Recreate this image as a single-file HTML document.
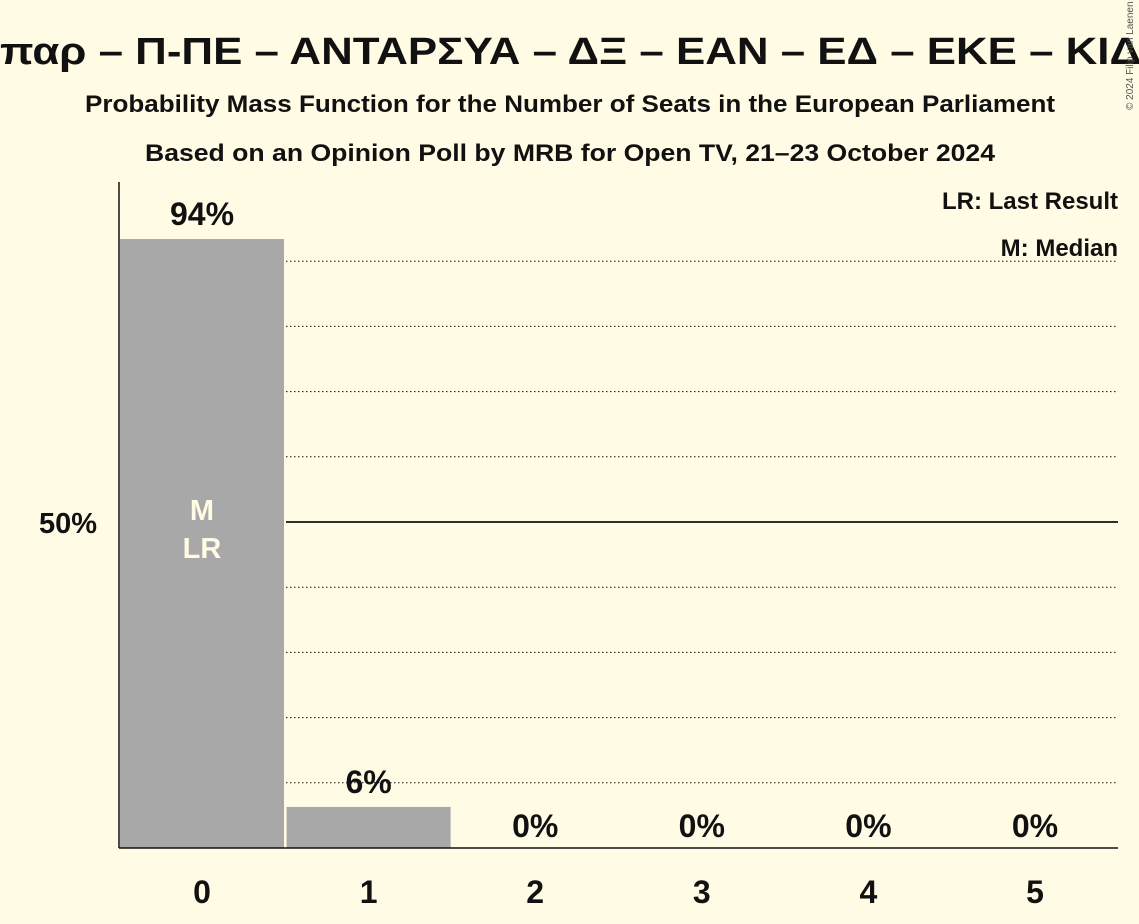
<!DOCTYPE html>
<html><head><meta charset="utf-8"><style>
body{margin:0;background:#fffbe5;}
svg{display:block;font-family:"Liberation Sans","DejaVu Sans",sans-serif;}
</style></head><body>
<svg id="c" width="1139" height="924" viewBox="0 0 1139 924" xmlns="http://www.w3.org/2000/svg">
<rect width="1139" height="924" fill="#fffbe5"/>
<text x="0" y="64" font-size="38" font-weight="bold" fill="#111" textLength="1141" lengthAdjust="spacingAndGlyphs">παρ – Π-ΠΕ – ΑΝΤΑΡΣΥΑ – ΔΞ – ΕΑΝ – ΕΔ – ΕΚΕ – ΚΙΔ</text>
<text x="85" y="112" font-size="24" font-weight="bold" fill="#111" textLength="970" lengthAdjust="spacingAndGlyphs">Probability Mass Function for the Number of Seats in the European Parliament</text>
<text x="145" y="161" font-size="24" font-weight="bold" fill="#111" textLength="850" lengthAdjust="spacingAndGlyphs">Based on an Opinion Poll by MRB for Open TV, 21–23 October 2024</text>
<text x="1133" y="110" font-size="10" fill="#555" transform="rotate(-90 1133 110)">© 2024 Filip van Laenen</text>
<g id="grid"></g><g id="bars"></g>
<line x1="119" y1="182" x2="119" y2="848" stroke="#111" stroke-width="1.5"/>
<line x1="119" y1="848" x2="1118" y2="848" stroke="#111" stroke-width="1.5"/>
<text x="97" y="533" text-anchor="end" font-size="29" font-weight="bold" fill="#111">50%</text>
<text x="1118" y="209" text-anchor="end" font-size="24" font-weight="bold" fill="#111">LR: Last Result</text>
<text x="1118" y="256" text-anchor="end" font-size="24" font-weight="bold" fill="#111">M: Median</text>
</svg>
<script>
const categories=[0,1,2,3,4,5];
const values=[93.4,6.3,0,0,0,0];
const labels=["94%","6%","0%","0%","0%","0%"];
const gridTicks=[10,20,30,40,60,70,80,90];
const ns="http://www.w3.org/2000/svg";
const y=v=>848-v*6.52;
const xc=i=>202+i*166.6;
const g=document.getElementById('grid'),b=document.getElementById('bars');
function mk(t,a,p){const e=document.createElementNS(ns,t);for(const k in a)e.setAttribute(k,a[k]);p.appendChild(e);return e;}
gridTicks.forEach(t=>{const l=mk('line',{x1:286,x2:1118,y1:y(t),y2:y(t),stroke:'#111','stroke-width':1,'stroke-dasharray':'1.5,2.5'},g);

});
const m=mk('line',{x1:286,x2:1118,y1:y(50),y2:y(50),stroke:'#111','stroke-width':1.8},g);


categories.forEach((c,i)=>{
 const v=values[i];
 if(v>0){const r=mk('rect',{x:xc(i)-82,y:y(v),width:164,height:848-y(v),fill:'#a8a8a8'},b);
 
 }
 const ty=v>0?y(v)-14:837;
 const t=mk('text',{x:xc(i),y:ty,'text-anchor':'middle','font-size':32,'font-weight':'bold',fill:'#111'},b);
 t.textContent=labels[i];
 
 
 const xt=mk('text',{x:xc(i),y:903,'text-anchor':'middle','font-size':32,'font-weight':'bold',fill:'#111'},b);
 xt.textContent=c;
 
 
});
const mt=mk('text',{x:xc(0),y:520,'text-anchor':'middle','font-size':29,'font-weight':'bold',fill:'#fffbe5'},b);
mt.textContent='M';


const lt=mk('text',{x:xc(0),y:558,'text-anchor':'middle','font-size':29,'font-weight':'bold',fill:'#fffbe5'},b);
lt.textContent='LR';


</script>
</body></html>
